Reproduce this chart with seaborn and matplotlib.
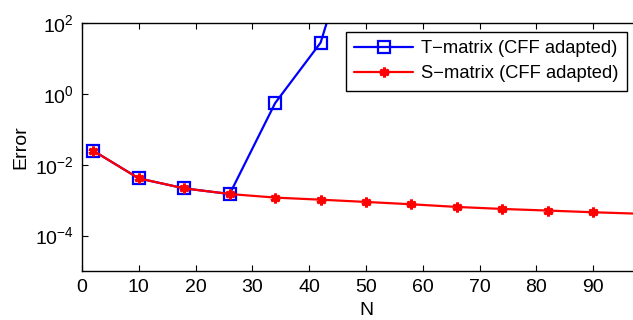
import matplotlib
matplotlib.use("Agg")
import matplotlib.pyplot as plt
import matplotlib.ticker as mticker
import seaborn as sns
import pandas as pd

# Data
t_N = [2, 10, 18, 26, 34, 42, 50]
t_err = [0.0247, 0.00411, 0.00215, 0.00149, 0.55, 27.9, 4.0e5]
s_N = [2, 10, 18, 26, 34, 42, 50, 58, 66, 74, 82, 90, 98]
s_err = [0.0247, 0.00411, 0.00215, 0.00149, 0.00118, 0.00103, 0.00089,
         0.000764, 0.000643, 0.000564, 0.000508, 0.000455, 0.000414]
t_label = "T\u2212matrix (CFF adapted)"
s_label = "S\u2212matrix (CFF adapted)"
x_ticks = [0, 10, 20, 30, 40, 50, 60, 70, 80, 90]
y_ticks = [1e-4, 1e-2, 1e0, 1e2]

sns.set_style("ticks")
plt.rcParams["font.family"] = ["Liberation Sans", "DejaVu Sans"]
plt.rcParams["font.size"] = 14
plt.rcParams["xtick.direction"] = "in"
plt.rcParams["ytick.direction"] = "in"
plt.rcParams["text.color"] = "black"
plt.rcParams["axes.labelcolor"] = "black"

df_t = pd.DataFrame({"N": t_N, "Error": t_err})
df_s = pd.DataFrame({"N": s_N, "Error": s_err})

fig = plt.figure(figsize=(6.33, 3.2), dpi=100)
ax = fig.add_axes([82 / 633, 49 / 320, 568.1 / 633, 248 / 320])

sns.lineplot(data=df_t, x="N", y="Error", ax=ax, color="#0000ff", lw=1.6,
             marker="s", markersize=9, markerfacecolor="none",
             markeredgecolor="#0000ff", markeredgewidth=1.6, label=t_label)
sns.lineplot(data=df_s, x="N", y="Error", ax=ax, color="#ff0000", lw=1.6,
             marker=(6, 2, 0), markersize=7, markeredgecolor="#ff0000",
             markeredgewidth=2.2, label=s_label)

ax.set_yscale("log")
ax.set_xlim(0, 100)
ax.set_ylim(1e-5, 1e2)
ax.set_xticks(x_ticks)
ax.set_yticks(y_ticks)
ax.yaxis.set_minor_locator(mticker.NullLocator())
ax.xaxis.set_minor_locator(mticker.NullLocator())
ax.tick_params(axis="both", which="major", length=4, width=0.8, top=True,
               right=True, labelsize=14, pad=6, colors="black")
for sp in ax.spines.values():
    sp.set_linewidth(1.0)
    sp.set_color("black")

ax.set_xlabel("N", fontsize=14, labelpad=4)
ax.set_ylabel("Error", fontsize=14, labelpad=4)

leg = ax.legend(loc="upper right", bbox_to_anchor=(627 / 633, 1 - 32 / 320),
                bbox_transform=fig.transFigure, frameon=True, fancybox=False,
                framealpha=1, edgecolor="black", fontsize=13.2,
                handlelength=3.2, handletextpad=0.45, borderpad=0.45,
                labelspacing=0.45, borderaxespad=0)
leg.get_frame().set_linewidth(1.0)

fig.savefig("out.png", dpi=100)
